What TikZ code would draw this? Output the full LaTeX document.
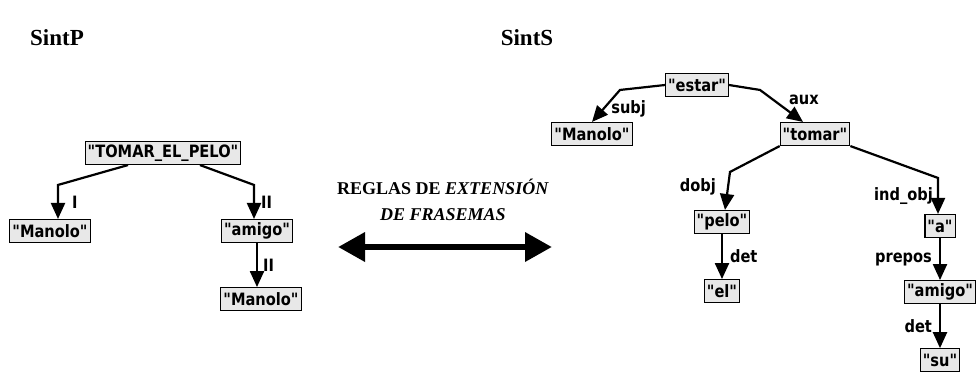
\documentclass[tikz,border=0pt]{standalone}
\usepackage{fontspec}
\setmainfont{Liberation Serif}
\newfontfamily\wordfont[FakeStretch=0.86]{DejaVu Sans}
\usetikzlibrary{arrows.meta, positioning}

\begin{document}
\begin{tikzpicture}[x=1pt, y=-1pt,
    word/.style={
        draw,
        line width=1.1pt,
        fill=black!9,
        inner sep=2.5pt,
        minimum height=23pt,
        font=\wordfont\bfseries\fontsize{17}{17}\selectfont
    },
    rel/.style={font=\wordfont\bfseries\fontsize{17}{17}\selectfont, inner sep=1pt},
    arrow/.style={-{Triangle[length=16pt, width=14pt]}, line width=2.2pt},
    bigarrow/.style={{Triangle[length=27pt, width=28pt]}-{Triangle[length=27pt, width=28pt]}, line width=6.5pt},
    title/.style={font=\bfseries\fontsize{23}{23}\selectfont},
    rule/.style={font=\bfseries\fontsize{18}{26}\selectfont, align=center}]

    \useasboundingbox (0,0) rectangle (977,376);

    % Titles
    \node[title] (sintp) at (57,38) {SintP};
    \node[title] (sints) at (527,38) {SintS};

    % SintP tree
    \node[word] (tomarP) at (163,153) {"TOMAR\_EL\_PELO"};
    \node[word] (manoloP) at (50,231) {"Manolo"};
    \node[word] (amigoP) at (257,231) {"amigo"};
    \node[word, below=44pt of amigoP, xshift=4pt] (manoloP2) {"Manolo"};

    \draw[arrow] ([xshift=-35pt]tomarP.south) -- ([xshift=8pt,yshift=34pt]manoloP.north)
        -- node[rel, right=12pt] (relI) {I} ([xshift=8pt]manoloP.north);
    \draw[arrow] ([xshift=37pt]tomarP.south) -- ([xshift=-3pt,yshift=34pt]amigoP.north)
        -- node[rel, right=5pt] (relII) {II} ([xshift=-3pt]amigoP.north);
    \draw[arrow] (amigoP.south) -- node[rel, right=4pt] (relII2) {II} (amigoP.south |- manoloP2.north);

    % Rules in the middle
    \node[rule] (reglas) at (443,200) {REGLAS DE \textit{EXTENSIÓN}\\\textit{DE FRASEMAS}};
    \coordinate (extL) at (338,247);
    \coordinate (extR) at (552,247);
    \draw[bigarrow] (extL) -- (extR);

    % SintS tree
    \node[word] (estar) at (697,85) {"estar"};
    \node[word] (manoloS) at (592,134) {"Manolo"};
    \node[word] (tomarS) at (815,134) {"tomar"};
    \node[word] (pelo) at (722,222) {"pelo"};
    \node[word, below=45pt of pelo] (el) {"el"};
    \node[word] (a) at (940,226) {"a"};
    \node[word, below=42pt of a] (amigoS) {"amigo"};
    \node[word, below=44pt of amigoS] (su) {"su"};

    \draw[arrow] (estar.west) -- ([xshift=28pt,yshift=32pt]manoloS.north)
        -- node[rel, right=6pt, pos=0.6] (relsubj) {subj} (manoloS.north);
    \draw[arrow] (estar.east) -- ([xshift=-55pt,yshift=32pt]tomarS.north)
        -- node[rel, right=14pt, pos=0.3] (relaux) {aux} ([xshift=-12pt]tomarS.north);
    \draw[arrow] (tomarS.south west) -- ([xshift=8pt,yshift=38pt]pelo.north)
        -- node[rel, left=10pt, pos=0.4] (reldobj) {dobj} ([xshift=3pt]pelo.north);
    \draw[arrow] (pelo.south) -- node[rel, right=6pt] (reldet) {det} (el.north);
    \draw[arrow] (tomarS.south east) -- ([xshift=-2pt,yshift=36pt]a.north)
        -- node[rel, left=3pt] (relind) {ind\_obj} ([xshift=-2pt]a.north);
    \draw[arrow] (a.south) -- node[rel, left=6pt] (relprepos) {prepos} (amigoS.north);
    \draw[arrow] (amigoS.south) -- node[rel, left=6pt] (reldet2) {det} (su.north);

\end{tikzpicture}
\end{document}
